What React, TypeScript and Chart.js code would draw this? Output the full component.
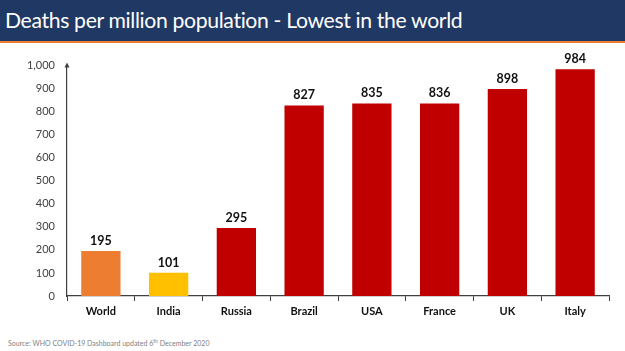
import React, { useEffect, useRef } from "react";
import { Chart, registerables } from "chart.js";

Chart.register(...registerables);

const categories = ["World", "India", "Russia", "Brazil", "USA", "France", "UK", "Italy"];
const deathsPerMillion = [195, 101, 295, 827, 835, 836, 898, 984];
const barColors = ["#ED7D31", "#FFC000", "#C00000", "#C00000", "#C00000", "#C00000", "#C00000", "#C00000"];
const yMin = 0;
const yMax = 1000;
const yStep = 100;

const FONT = "Lato, 'Open Sans', sans-serif";

const valueLabels = {
  id: "valueLabels",
  afterDatasetsDraw(chart: any) {
    const { ctx } = chart;
    const meta = chart.getDatasetMeta(0);
    ctx.save();
    ctx.font = `bold 12.5px ${FONT}`;
    ctx.fillStyle = "#111111";
    ctx.textAlign = "center";
    ctx.textBaseline = "bottom";
    meta.data.forEach((bar: any, i: number) => {
      ctx.fillText(String(chart.data.datasets[0].data[i]), bar.x, bar.y - 4);
    });
    ctx.restore();
  },
};

const axisArrow = {
  id: "axisArrow",
  afterDraw(chart: any) {
    const { ctx, chartArea } = chart;
    ctx.save();
    ctx.fillStyle = "#404040";
    ctx.beginPath();
    ctx.moveTo(chartArea.left - 2.5, chartArea.top + 2);
    ctx.lineTo(chartArea.left + 2.5, chartArea.top + 2);
    ctx.lineTo(chartArea.left, chartArea.top - 3);
    ctx.closePath();
    ctx.fill();
    ctx.restore();
  },
};

export default function App() {
  const ref = useRef<HTMLCanvasElement>(null);
  useEffect(() => {
    if (!ref.current) return;
    const chart = new Chart(ref.current, {
      type: "bar",
      data: {
        labels: categories,
        datasets: [
          {
            data: deathsPerMillion,
            backgroundColor: barColors,
            borderWidth: 0,
            barPercentage: 0.58,
            categoryPercentage: 1,
          },
        ],
      },
      options: {
        animation: false,
        responsive: false,
        maintainAspectRatio: false,
        layout: { padding: { top: 12, right: 16, bottom: 0, left: 0 } },
        plugins: { legend: { display: false }, tooltip: { enabled: false } },
        scales: {
          x: {
            grid: {
              display: true,
              drawOnChartArea: false,
              drawTicks: true,
              tickLength: 5,
              color: "#404040",
              offset: true,
            },
            border: { display: true, color: "#404040", width: 1.2 },
            ticks: {
              color: "#111111",
              font: { family: FONT, size: 11, weight: "bold" },
              padding: 4,
            },
            afterFit: (s: any) => {
              s.height = 30;
            },
          },
          y: {
            min: yMin,
            max: yMax,
            grid: { display: false, drawTicks: false },
            border: { display: true, color: "#404040", width: 1.2 },
            ticks: {
              stepSize: yStep,
              color: "#404040",
              font: { family: FONT, size: 11 },
              padding: 12,
              callback: (v: any) => Number(v).toLocaleString("en-US"),
            },
            afterFit: (s: any) => {
              s.width = 67;
            },
          },
        },
      },
      plugins: [valueLabels, axisArrow],
    });
    return () => chart.destroy();
  }, []);

  return (
    <div
      style={{
        position: "fixed",
        left: 0,
        top: 0,
        width: 625,
        height: 351,
        background: "#ffffff",
        overflow: "hidden",
      }}
    >
      <div
        style={{
          position: "absolute",
          left: 0,
          top: 0,
          width: 625,
          height: 41,
          background: "#1F3864",
          borderBottom: "2px solid #ED7D31",
          boxSizing: "content-box",
        }}
      >
        <div
          style={{
            position: "absolute",
            left: 5,
            top: 5,
            color: "#ffffff",
            fontFamily: FONT,
            fontSize: 21.2,
            letterSpacing: "-0.35px",
            lineHeight: "30px",
            whiteSpace: "nowrap",
          }}
        >
          Deaths per million population - Lowest in the world
        </div>
      </div>
      <canvas
        ref={ref}
        width={625}
        height={279}
        style={{ position: "absolute", left: 0, top: 47, width: 625, height: 279 }}
      />
      <div
        style={{
          position: "absolute",
          left: 8,
          top: 338,
          fontFamily: FONT,
          fontSize: 7,
          color: "#7F7F7F",
          whiteSpace: "nowrap",
        }}
      >
        Source: WHO COVID-19 Dashboard updated 6<sup style={{ fontSize: 5 }}>th</sup> December 2020
      </div>
    </div>
  );
}
